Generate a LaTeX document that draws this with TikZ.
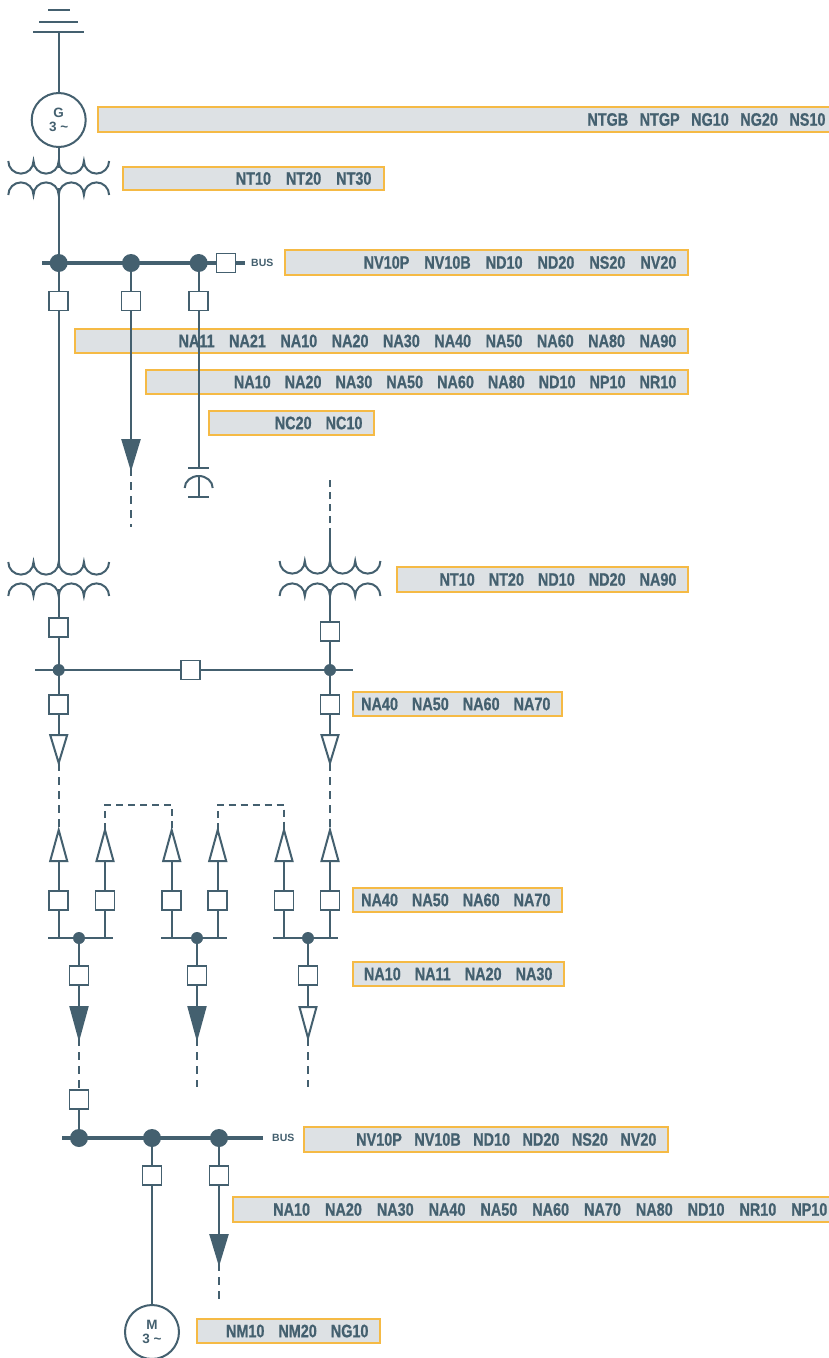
\documentclass[tikz,border=0pt]{standalone}
\usepackage{fontspec}
\setmainfont{Liberation Sans}
\newfontfamily\cond[FakeStretch=0.8,FakeBold=0.8]{Liberation Sans}
\usetikzlibrary{calc}
\definecolor{ink}{HTML}{44606F}
\definecolor{boxfill}{HTML}{DDE1E4}
\definecolor{boxline}{HTML}{F5BA45}
\tikzset{
 ln/.style={draw=ink, line width=2pt},
 busln/.style={draw=ink, line width=4.5pt},
 dsh/.style={draw=ink, line width=2pt, dash pattern=on 8pt off 6pt},
 dshs/.style={draw=ink, line width=2pt, dash pattern=on 7pt off 5pt},
 brk/.style={draw=ink, line width=1.8pt, fill=white, rectangle, minimum size=19pt, inner sep=0pt},
 bigdot/.style={circle, fill=ink, minimum size=18pt, inner sep=0pt},
 smalldot/.style={circle, fill=ink, minimum size=12pt, inner sep=0pt},
 machine/.style={circle, draw=ink, line width=2pt, fill=white, minimum size=54pt, inner sep=0pt, font=\fontsize{13.5}{14}\selectfont\bfseries, text=ink, align=center},
 lblbox/.style={rectangle, draw=boxline, fill=boxfill, line width=1.3pt, inner sep=0pt},
 lbltxt/.style={font=\cond\bfseries\fontsize{18}{19}\selectfont, text=ink, inner sep=0pt, anchor=east},
 bustxt/.style={font=\bfseries\fontsize{10.5}{11}\selectfont, text=ink, inner sep=0pt, anchor=west},
}
% label box: [word gap], name, x1, y1, x2, y2, right padding, text
\newcommand\lbl[8][14]{%
 \node[lblbox, minimum width={#5-#3}, minimum height={#6-#4}] (#2) at ({(#3+#5)/2},{(#4+#6)/2}) {};
 \node[lbltxt] (#2t) at ($(#2.east)+(-#7,0)$) {\spaceskip=#1pt\relax #8};}
% transformer: cx, top of upper arcs, ends of lower arcs, radius
\newcommand\xfmr[4]{%
 \draw[ln] ({#1-4*#4},#2) arc[start angle=180,end angle=0,radius=#4] arc[start angle=180,end angle=0,radius=#4] arc[start angle=180,end angle=0,radius=#4] arc[start angle=180,end angle=0,radius=#4];
 \draw[ln] ({#1-4*#4},#3) arc[start angle=180,end angle=360,radius=#4] arc[start angle=180,end angle=360,radius=#4] arc[start angle=180,end angle=360,radius=#4] arc[start angle=180,end angle=360,radius=#4];}
% triangle: name, x, y of base, y of tip, fill
\newcommand\tri[5]{%
 \draw[ln, fill=#5, line join=miter] ({#2-8.5},#3) -- ({#2+8.5},#3) -- (#2,#4) -- cycle;
 \coordinate (#1b) at (#2,#3); \coordinate (#1t) at (#2,#4);}
\begin{document}
\begin{tikzpicture}[x=1pt,y=-1pt]
\useasboundingbox (0,0) rectangle (828,1358);
\fill[white] (0,0) rectangle (828,1358);
% ---------- label boxes ----------
\lbl[11.5]{L1}{98}{107}{845}{132}{20}{NTGB NTGP NG10 NG20 NS10}
\lbl[15]{L2}{123}{167}{384}{190}{13}{NT10 NT20 NT30}
\lbl[15]{L3}{285}{250}{688}{275}{12}{NV10P NV10B ND10 ND20 NS20 NV20}
\lbl[14.5]{L4}{75}{329}{688}{353}{12}{NA11 NA21 NA10 NA20 NA30 NA40 NA50 NA60 NA80 NA90}
\lbl{L5}{146}{370}{688}{394}{12}{NA10 NA20 NA30 NA50 NA60 NA80 ND10 NP10 NR10}
\lbl{L6}{209}{411}{374}{435}{12}{NC20 NC10}
\lbl{L7}{397}{567}{688}{592}{12}{NT10 NT20 ND10 ND20 NA90}
\lbl{L8}{353}{692}{562}{716}{12}{NA40 NA50 NA60 NA70}
\lbl{L9}{353}{888}{562}{912}{12}{NA40 NA50 NA60 NA70}
\lbl{L10}{353}{962}{564}{986}{12}{NA10 NA11 NA20 NA30}
\lbl[12.5]{L11}{304}{1127}{668}{1152}{12}{NV10P NV10B ND10 ND20 NS20 NV20}
\lbl[15]{L12}{233}{1197}{845}{1222}{18}{NA10 NA20 NA30 NA40 NA50 NA60 NA70 NA80 ND10 NR10 NP10}
\lbl{L13}{197}{1319}{380}{1343}{12}{NM10 NM20 NG10}
% ---------- grid supply and generator ----------
\coordinate (gr) at (58.7,32);
\draw[ln] (48,10) -- (70,10);
\draw[ln] (39,22) -- (78,22);
\draw[ln] (33,32) -- (84,32);
\node[machine] (G) at (58.7,120) {G\\3 \textasciitilde};
\draw[ln] (gr) -- (G.north);
% ---------- transformer 1 ----------
\xfmr{58.7}{161}{195}{12.6}
\coordinate (x1u) at (58.7,168);
\coordinate (x1l) at (58.7,188);
\draw[ln] (G.south) -- (x1u);
% ---------- bus 1 ----------
\coordinate (busL) at (42,263);
\coordinate (busR) at (245,263);
\node[brk] (bb) at (226,263) {};
\draw[busln] (busL) -- (bb.west);
\draw[busln] (bb.east) -- (busR);
\node[bigdot] (d1) at (58.7,263) {};
\node[bigdot] (d2) at (131,263) {};
\node[bigdot] (d3) at (198.7,263) {};
\node[bustxt] (bus1t) at (251,263) {BUS};
\draw[ln] (x1l) -- (d1);
\node[brk] (b1) at (58.7,301) {};
\node[brk] (b2) at (131,301) {};
\node[brk] (b3) at (198.7,301) {};
\draw[ln] (d1) -- (b1);
\draw[ln] (d2) -- (b2);
\draw[ln] (d3) -- (b3);
% feeder with arrow
\tri{a1}{131}{440}{468}{ink}
\coordinate (a1e) at (131,527);
\draw[ln] (b2) -- (a1b);
\draw[dsh] (a1t) -- (a1e);
% capacitor
\coordinate (cp1) at (198.7,468);
\coordinate (cp2) at (198.7,476);
\coordinate (cp3) at (198.7,497);
\draw[ln] (b3) -- (cp1);
\draw[ln] (188,468) -- (209.4,468);
\draw[ln] (184.7,488) arc[start angle=180,end angle=360,x radius=14,y radius=12];
\draw[ln] (cp2) -- (cp3);
\draw[ln] (188,497) -- (209.4,497);
% ---------- transformers 2 and 3 ----------
\xfmr{58.7}{562}{596}{12.6}
\xfmr{330}{561}{596}{12.6}
\coordinate (x2u) at (58.7,568);
\coordinate (x2l) at (58.7,589);
\coordinate (x3u) at (330,567);
\coordinate (x3l) at (330,589);
\coordinate (x3top) at (330,535);
\coordinate (x3end) at (330,480);
\draw[ln] (b1) -- (x2u);
\draw[ln] (x3top) -- (x3u);
\draw[dshs] (x3top) -- (x3end);
\node[brk] (t1) at (58.7,627.5) {};
\node[brk] (t2) at (330,631.5) {};
\draw[ln] (x2l) -- (t1);
\draw[ln] (x3l) -- (t2);
% ---------- bus 2 ----------
\coordinate (b2L) at (35,670);
\coordinate (b2R) at (353,670);
\node[brk] (cpl) at (190.5,670) {};
\draw[ln] (b2L) -- (cpl.west);
\draw[ln] (cpl.east) -- (b2R);
\node[smalldot] (e1) at (58.7,670) {};
\node[smalldot] (e2) at (330,670) {};
\draw[ln] (t1) -- (e1);
\draw[ln] (t2) -- (e2);
\node[brk] (f1) at (58.7,704.5) {};
\node[brk] (f2) at (330,704.5) {};
\draw[ln] (e1) -- (f1);
\draw[ln] (e2) -- (f2);
\tri{o1}{58.7}{735}{763}{white}
\tri{o2}{330}{735}{763}{white}
\draw[ln] (f1) -- (o1b);
\draw[ln] (f2) -- (o2b);
% ---------- incoming arrows ----------
\tri{u1}{58.7}{861}{830}{white}
\tri{u2}{105}{861}{830}{white}
\tri{u3}{171.7}{861}{830}{white}
\tri{u4}{217.7}{861}{830}{white}
\tri{u5}{284}{861}{830}{white}
\tri{u6}{330}{861}{830}{white}
\draw[dsh] (o1t) -- (u1t);
\draw[dsh] (o2t) -- (u6t);
\coordinate (k1) at (105,805);
\coordinate (k2) at (171.7,805);
\coordinate (k3) at (217.7,805);
\coordinate (k4) at (284,805);
\draw[dshs] (u2t) -- (k1) -- (k2) -- (u3t);
\draw[dshs] (u4t) -- (k3) -- (k4) -- (u5t);
\node[brk] (p1) at (58.7,900.5) {};
\node[brk] (p2) at (105,900.5) {};
\node[brk] (p3) at (171.7,900.5) {};
\node[brk] (p4) at (217.7,900.5) {};
\node[brk] (p5) at (284,900.5) {};
\node[brk] (p6) at (330,900.5) {};
\draw[ln] (u1b) -- (p1);
\draw[ln] (u2b) -- (p2);
\draw[ln] (u3b) -- (p3);
\draw[ln] (u4b) -- (p4);
\draw[ln] (u5b) -- (p5);
\draw[ln] (u6b) -- (p6);
% small buses
\coordinate (m1) at (58.7,938);
\coordinate (m2) at (105,938);
\coordinate (m3) at (171.7,938);
\coordinate (m4) at (217.7,938);
\coordinate (m5) at (284,938);
\coordinate (m6) at (330,938);
\coordinate (sL1) at (48,938);
\coordinate (sR1) at (113,938);
\coordinate (sL2) at (161,938);
\coordinate (sR2) at (227,938);
\coordinate (sL3) at (273,938);
\coordinate (sR3) at (338,938);
\draw[ln] (sL1) -- (sR1);
\draw[ln] (sL2) -- (sR2);
\draw[ln] (sL3) -- (sR3);
\draw[ln] (p1) -- (m1);
\draw[ln] (p2) -- (m2);
\draw[ln] (p3) -- (m3);
\draw[ln] (p4) -- (m4);
\draw[ln] (p5) -- (m5);
\draw[ln] (p6) -- (m6);
\node[smalldot] (q1) at (79,938) {};
\node[smalldot] (q2) at (197,938) {};
\node[smalldot] (q3) at (308,938) {};
\node[brk] (r1) at (79,975.5) {};
\node[brk] (r2) at (197,975.5) {};
\node[brk] (r3) at (308,975.5) {};
\draw[ln] (q1) -- (r1);
\draw[ln] (q2) -- (r2);
\draw[ln] (q3) -- (r3);
\tri{v1}{79}{1007}{1038}{ink}
\tri{v2}{197}{1007}{1038}{ink}
\tri{v3}{308}{1007}{1038}{white}
\draw[ln] (r1) -- (v1b);
\draw[ln] (r2) -- (v2b);
\draw[ln] (r3) -- (v3b);
\node[brk] (g1) at (79,1099.5) {};
\coordinate (v2e) at (197,1087);
\coordinate (v3e) at (308,1087);
\draw[dsh] (v1t) -- (g1);
\draw[dsh] (v2t) -- (v2e);
\draw[dsh] (v3t) -- (v3e);
% ---------- bus 3 ----------
\coordinate (b3L) at (62,1138);
\coordinate (b3R) at (263,1138);
\draw[busln] (b3L) -- (b3R);
\node[bigdot] (h1) at (79,1138) {};
\node[bigdot] (h2) at (152,1138) {};
\node[bigdot] (h3) at (219,1138) {};
\node[bustxt] (bus3t) at (272,1138) {BUS};
\draw[ln] (g1) -- (h1);
\node[brk] (w1) at (152,1175.5) {};
\node[brk] (w2) at (219,1175.5) {};
\draw[ln] (h2) -- (w1);
\draw[ln] (h3) -- (w2);
\node[machine] (M) at (152,1332) {M\\3 \textasciitilde};
\draw[ln] (w1) -- (M);
\tri{z1}{219}{1235}{1263}{ink}
\coordinate (z1e) at (219,1303);
\draw[ln] (w2) -- (z1b);
\draw[dsh] (z1t) -- (z1e);
\end{tikzpicture}
\end{document}
